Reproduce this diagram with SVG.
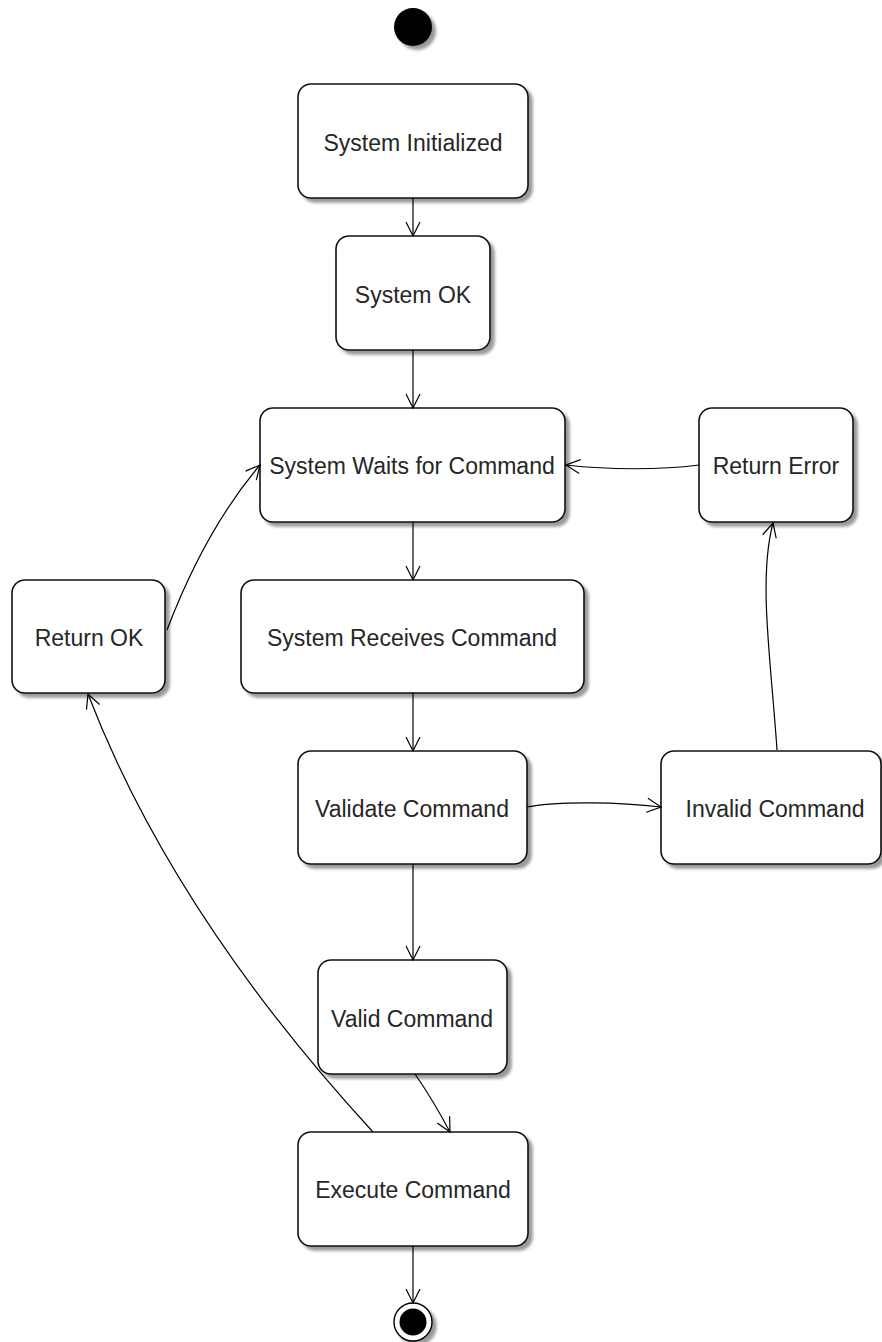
<svg xmlns="http://www.w3.org/2000/svg" width="882" height="1342" viewBox="0 0 882 1342">
  <defs>
    <filter id="shadow" x="-10%" y="-10%" width="130%" height="130%">
      <feGaussianBlur in="SourceAlpha" stdDeviation="1.5" result="b"/>
      <feOffset in="b" dx="4" dy="4" result="o"/>
      <feComponentTransfer in="o" result="s">
        <feFuncA type="linear" slope="0.4"/>
      </feComponentTransfer>
      <feMerge>
        <feMergeNode in="s"/>
        <feMergeNode in="SourceGraphic"/>
      </feMerge>
    </filter>
    <marker id="open" markerWidth="20" markerHeight="20" refX="15" refY="8" orient="auto" markerUnits="userSpaceOnUse">
      <path d="M1,1 L15,8 L1,15" fill="none" stroke="#000" stroke-width="1.2"/>
    </marker>
    <style>
      .state { fill: #fff; stroke: #111; stroke-width: 1.6; filter: url(#shadow); }
      .label { font-family: "Liberation Sans", Arial, sans-serif; font-size: 23px; fill: #262626; text-anchor: middle; }
      .edge { fill: none; stroke: #000; stroke-width: 1.2; marker-end: url(#open); }
    </style>
  </defs>
  <rect width="882" height="1342" fill="#fff"/>

  <!-- initial pseudo-state -->
  <g id="initial">
    <circle cx="413" cy="27" r="19" fill="#000" filter="url(#shadow)"/>
  </g>

  <g id="system-initialized">
    <rect class="state" x="298" y="84" width="230" height="114" rx="13"/>
    <text class="label" x="413" y="151">System Initialized</text>
  </g>

  <g id="system-ok">
    <rect class="state" x="336" y="236" width="154" height="114" rx="13"/>
    <text class="label" x="413" y="303">System OK</text>
  </g>

  <g id="system-waits">
    <rect class="state" x="260" y="408" width="305" height="114" rx="13"/>
    <text class="label" x="412" y="474">System Waits for Command</text>
  </g>

  <g id="return-error">
    <rect class="state" x="699" y="408" width="154" height="114" rx="13"/>
    <text class="label" x="776" y="474">Return Error</text>
  </g>

  <g id="return-ok">
    <rect class="state" x="12" y="580" width="153" height="113" rx="13"/>
    <text class="label" x="89" y="646">Return OK</text>
  </g>

  <g id="system-receives">
    <rect class="state" x="241" y="580" width="343" height="113" rx="13"/>
    <text class="label" x="412" y="646">System Receives Command</text>
  </g>

  <g id="validate-command">
    <rect class="state" x="298" y="751" width="229" height="113" rx="13"/>
    <text class="label" x="412" y="817">Validate Command</text>
  </g>

  <g id="invalid-command">
    <rect class="state" x="661" y="751" width="220" height="113" rx="13"/>
    <text class="label" x="775" y="817">Invalid Command</text>
  </g>

  <g id="valid-command">
    <rect class="state" x="318" y="960" width="189" height="114" rx="13"/>
    <text class="label" x="412" y="1027">Valid Command</text>
  </g>

  <g id="execute-command">
    <rect class="state" x="298" y="1132" width="230" height="114" rx="13"/>
    <text class="label" x="413" y="1198">Execute Command</text>
  </g>

  <!-- final pseudo-state -->
  <g id="final">
    <circle cx="413" cy="1322" r="19" fill="#fff" stroke="#000" stroke-width="1.4" filter="url(#shadow)"/>
    <circle cx="413" cy="1322" r="13.5" fill="#000"/>
  </g>

  <g id="connectors">
    <path class="edge" d="M413,198 L413,236"/>
    <path class="edge" d="M413,350 L413,408"/>
    <path class="edge" d="M413,522 L413,580"/>
    <path class="edge" d="M413,693 L413,751"/>
    <path class="edge" d="M413,864 L413,960"/>
    <path class="edge" d="M415,1074 Q433,1100 450,1132"/>
    <path class="edge" d="M413,1246 L413,1303"/>
    <path class="edge" d="M527,807 C560,801 620,802 661,807"/>
    <path class="edge" d="M777,750 C771,660 758,580 773,523"/>
    <path class="edge" d="M699,465 C660,470 610,470 566,465"/>
    <path class="edge" d="M167,630 Q205,530 260,465"/>
    <path class="edge" d="M373,1132 Q172,913 88,694"/>
  </g>
</svg>
